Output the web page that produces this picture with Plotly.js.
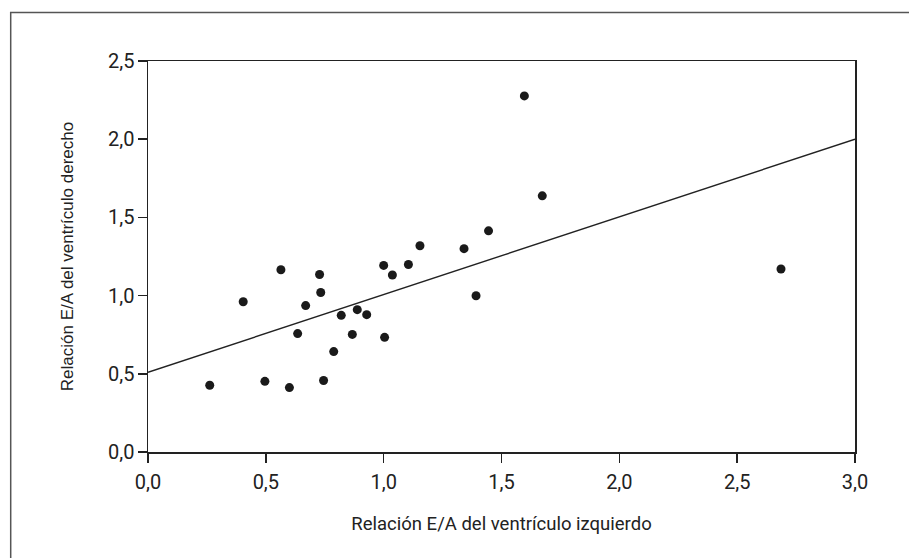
<!DOCTYPE html>
<html>
<head>
<meta charset="utf-8">
<script src="https://cdn.plot.ly/plotly-3.0.1.min.js"></script>
<style>html,body{margin:0;padding:0;background:#fff;}#chart{width:909px;height:558px;}</style>
</head>
<body>
<div id="chart"></div>
<script>
// Relación E/A del ventrículo izquierdo (x) vs derecho (y)
const eaIzquierdo = [0.262, 0.404, 0.496, 0.564, 0.600, 0.635, 0.669, 0.728, 0.733, 0.745,
                     0.788, 0.820, 0.867, 0.888, 0.928, 1.000, 1.004, 1.037, 1.105, 1.154,
                     1.341, 1.392, 1.445, 1.597, 1.673, 2.686];
const eaDerecho   = [0.427, 0.961, 0.452, 1.165, 0.412, 0.757, 0.936, 1.135, 1.020, 0.457,
                     0.642, 0.874, 0.752, 0.910, 0.878, 1.193, 0.733, 1.132, 1.199, 1.319,
                     1.300, 0.999, 1.414, 2.277, 1.638, 1.170];
// Recta de regresión (extremos)
const lineX = [0, 3];
const lineY = [0.51, 2.0];
const xTicks = [0, 0.5, 1, 1.5, 2, 2.5, 3];
const yTicks = [0, 0.5, 1, 1.5, 2, 2.5];

const narrow = 'Roboto, "Liberation Sans", sans-serif';
const regular = '"Liberation Sans", Arial, sans-serif';

const traces = [
  {x: lineX, y: lineY, type: 'scatter', mode: 'lines',
   line: {color: '#222', width: 1.4}, hoverinfo: 'skip', showlegend: false},
  {x: eaIzquierdo, y: eaDerecho, type: 'scatter', mode: 'markers',
   marker: {color: '#1a1a1a', size: 9}, showlegend: false}
];

const axisCommon = {
  showline: true, mirror: true, linecolor: '#222', linewidth: 1.5,
  ticks: 'outside', ticklen: 9, tickwidth: 1.5, tickcolor: '#222',
  showgrid: false, zeroline: false, tickformat: '.1f',
  tickfont: {family: narrow, size: 20, color: '#222'}
};

const layout = {
  width: 909, height: 558,
  margin: {l: 148, r: 54, t: 61, b: 105.5},
  paper_bgcolor: '#fff', plot_bgcolor: '#fff',
  separators: ',.',
  xaxis: Object.assign({}, axisCommon, {
    range: [0, 3], tickvals: xTicks, autorange: false, ticklabelstandoff: 2,
    title: {text: 'Relación E/A del ventrículo izquierdo', standoff: 24,
            font: {family: narrow, size: 18.5, color: '#222'}}
  }),
  yaxis: Object.assign({}, axisCommon, {
    range: [0, 2.5], tickvals: yTicks, autorange: false, ticklabelstandoff: -1,
    title: {text: 'Relación E/A del ventrículo derecho', standoff: 30,
            font: {family: regular, size: 17, color: '#222'}}
  }),
  shapes: [
    {type: 'rect', xref: 'paper', yref: 'paper',
     x0: -0.1942, x1: 1.2, y0: -0.5, y1: 1.1243,
     line: {color: '#555', width: 1.5}, fillcolor: 'rgba(0,0,0,0)', layer: 'below'}
  ]
};

Plotly.newPlot('chart', traces, layout, {displayModeBar: false, staticPlot: true});
</script>
</body>
</html>
